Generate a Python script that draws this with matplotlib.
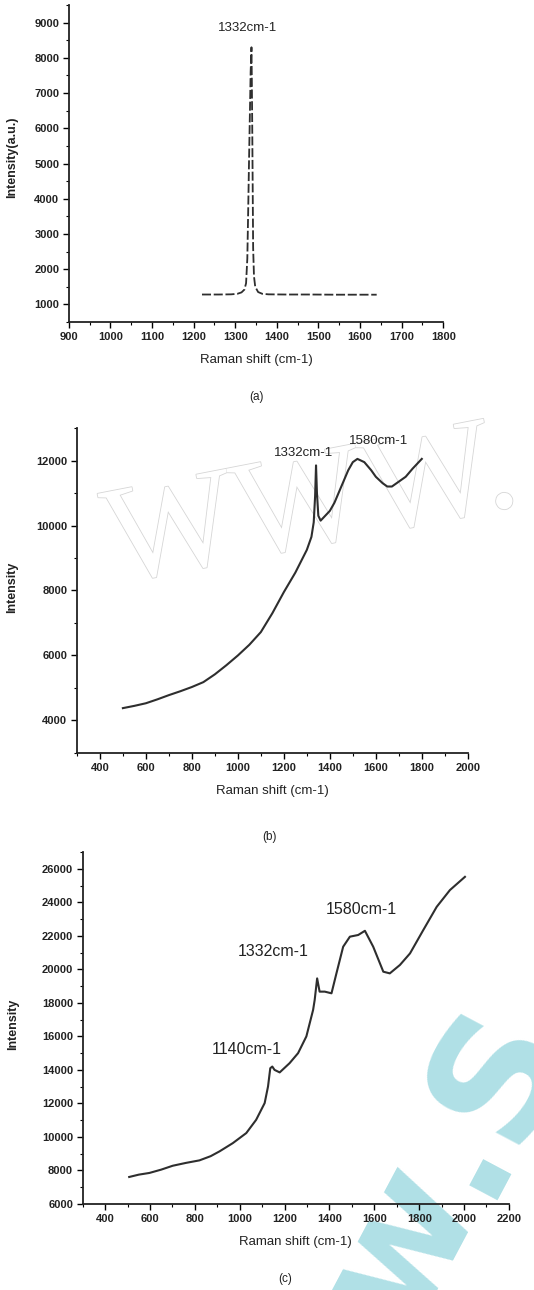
import numpy as np
import matplotlib
matplotlib.use("Agg")
import matplotlib.pyplot as plt
from matplotlib.ticker import MultipleLocator
import matplotlib.patheffects as pe

plt.rcParams['font.family'] = ['Liberation Sans', 'DejaVu Sans']

# (a) single crystal diamond - sharp 1332 peak
x_a = [1220, 1260, 1290, 1305, 1315, 1322, 1326, 1329, 1331, 1333, 1335, 1337, 1339,
       1340, 1341, 1342, 1343, 1345, 1348, 1355, 1365, 1380, 1420, 1480, 1540, 1600, 1640]
y_a = [1280, 1280, 1285, 1300, 1340, 1420, 1600, 2300, 3600, 5000, 6300, 7600, 8300,
       7200, 5800, 4200, 2600, 1800, 1500, 1350, 1300, 1285, 1280, 1280, 1275, 1275, 1275]

# (b) film with fluorescence background
x_b = [500, 550, 600, 650, 700, 750, 800, 850, 900, 950, 1000, 1050, 1100, 1150, 1200,
       1250, 1300, 1320, 1330, 1336, 1340, 1344, 1350, 1360, 1380, 1400, 1420, 1450,
       1480, 1500, 1520, 1550, 1580, 1600, 1630, 1650, 1670, 1700, 1730, 1760, 1800]
y_b = [4380, 4450, 4530, 4650, 4780, 4900, 5030, 5180, 5420, 5700, 6000, 6330, 6720,
       7300, 7950, 8550, 9250, 9650, 10100, 10900, 11850, 11000, 10300, 10150, 10300,
       10450, 10700, 11200, 11700, 11950, 12050, 11950, 11700, 11500, 11300, 11200,
       11200, 11350, 11500, 11750, 12050]

# (c) film with 1140 / 1332 / 1580 bands
x_c = [507, 550, 597, 650, 701, 760, 820, 870, 910, 969, 1029, 1073, 1111, 1126, 1136,
       1145, 1155, 1178, 1222, 1260, 1297, 1327, 1334, 1345, 1356, 1379, 1409, 1431,
       1461, 1491, 1528, 1558, 1595, 1640, 1669, 1714, 1759, 1818, 1878, 1937, 2004]
y_c = [7610, 7750, 7850, 8050, 8280, 8450, 8600, 8850, 9140, 9630, 10230, 11020, 12020,
       13010, 14100, 14200, 14000, 13850, 14400, 15000, 16000, 17580, 18170, 19460,
       18670, 18670, 18570, 19760, 21350, 21950, 22050, 22300, 21350, 19860, 19760,
       20260, 20950, 22340, 23730, 24730, 25520]

line_col = '#2e2e2e'
txt_col = '#222222'
tick_kw = dict(labelsize=8, width=1.0, length=4, direction='out', pad=3)

fig = plt.figure(figsize=(5.34, 12.9), dpi=100)


def style_axis(ax, xlim, ylim, xmaj, xmin, ymaj, ymin, ylabel):
    ax.set_xlim(*xlim)
    ax.set_ylim(*ylim)
    ax.xaxis.set_major_locator(MultipleLocator(xmaj))
    ax.xaxis.set_minor_locator(MultipleLocator(xmin))
    ax.yaxis.set_major_locator(MultipleLocator(ymaj))
    ax.yaxis.set_minor_locator(MultipleLocator(ymin))
    ax.spines['top'].set_visible(False)
    ax.spines['right'].set_visible(False)
    for s in ['left', 'bottom']:
        ax.spines[s].set_linewidth(1.3)
        ax.spines[s].set_color(txt_col)
    ax.tick_params(which='major', **tick_kw)
    ax.tick_params(which='minor', width=0.8, length=2.5, direction='out')
    for lab in ax.get_xticklabels() + ax.get_yticklabels():
        lab.set_fontweight('bold')
        lab.set_color(txt_col)
    ax.set_xlabel('Raman shift (cm-1)', fontsize=9.5, color=txt_col, labelpad=9)
    ax.set_ylabel(ylabel, fontsize=9, fontweight='bold', color=txt_col)
    ax.patch.set_alpha(0)


# ---- panel a
ax1 = fig.add_axes([0.129, 0.7504, 0.701, 0.2457])
ax1.plot(x_a, y_a, color=line_col, lw=1.3, dashes=(5, 1.5))
style_axis(ax1, (900, 1800), (500, 9500), 100, 50, 1000, 500, 'Intensity(a.u.)')
ax1.yaxis.set_label_coords(-0.135, 0.52)
ax1.text(1330, 8750, '1332cm-1', fontsize=9.5, ha='center', color=txt_col)
fig.text(0.481, 0.690, '(a)', fontsize=8.5, ha='center', color=txt_col)

# ---- panel b (outlined watermark behind the curve)
fig.text(0.215, 0.5480, 'WWW.', fontsize=100, family='Liberation Serif',
         ha='left', va='baseline', rotation=11, rotation_mode='anchor',
         color='white', zorder=-1,
         path_effects=[pe.withStroke(linewidth=1.2, foreground='#d6d6d6')])
ax2 = fig.add_axes([0.144, 0.4163, 0.732, 0.2519])
ax2.plot(x_b, y_b, color=line_col, lw=1.5)
style_axis(ax2, (300, 2000), (3000, 13000), 200, 100, 2000, 1000, 'Intensity')
ax2.yaxis.set_label_coords(-0.15, 0.51)
ax2.text(1285, 12150, '1332cm-1', fontsize=9.5, ha='center', color=txt_col)
ax2.text(1614, 12500, '1580cm-1', fontsize=9.5, ha='center', color=txt_col)
fig.text(0.505, 0.349, '(b)', fontsize=8.5, ha='center', color=txt_col)

# ---- panel c (cyan watermark)
wm_kw = dict(fontsize=122, fontweight='bold', family='DejaVu Sans', rotation=62,
             rotation_mode='anchor', va='baseline', color='#b0e0e6', zorder=-1)
fig.text(0.900, 0.0700, '.S', ha='left', **wm_kw)
fig.text(0.900, 0.0700, 'ww', ha='right', **wm_kw)
ax3 = fig.add_axes([0.155, 0.0667, 0.798, 0.2728])
ax3.plot(x_c, y_c, color=line_col, lw=1.5)
style_axis(ax3, (300, 2200), (6000, 27000), 200, 100, 2000, 1000, 'Intensity')
ax3.yaxis.set_label_coords(-0.15, 0.51)
ax3.text(1540, 23300, '1580cm-1', fontsize=11.5, ha='center', color=txt_col)
ax3.text(1150, 20800, '1332cm-1', fontsize=11.5, ha='center', color=txt_col)
ax3.text(1030, 14950, '1140cm-1', fontsize=11.5, ha='center', color=txt_col)
fig.text(0.534, 0.006, '(c)', fontsize=8.5, ha='center', color=txt_col)

fig.savefig('out.png', dpi=100)
